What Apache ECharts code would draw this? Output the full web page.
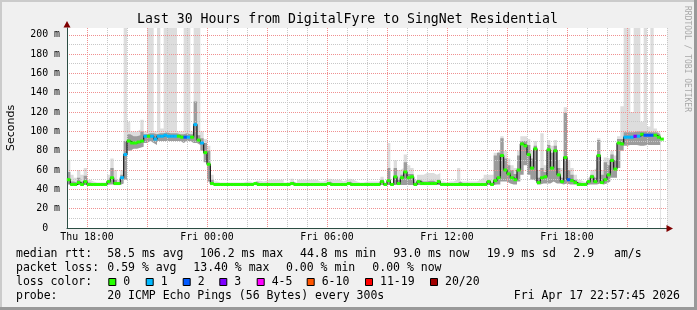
<!DOCTYPE html>
<html><head><meta charset="utf-8">
<script src="https://cdn.jsdelivr.net/npm/echarts@6/dist/echarts.min.js"></script>
<style>html,body{margin:0;padding:0;background:#f0f0f0}#c{width:697px;height:310px}</style>
</head><body><div id="c"></div>
<script>
// time base: hours counted from Thu 00:00, one sample every 10 minutes
const START_HOUR = 17;
const STEP_MIN = 10;

const median = [
 50,45,45,47,45,48,45,45,45,45,
 45,45,48,52,46,46,52,76,90,88,
 88,89,90,95,95,95,92,95,95,96,
 95,95,95,95,94,94,94,94,107,91,
 88,78,66,46,45,45,45,45,45,45,
 45,45,45,45,45,45,46,45,45,45,
 45,45,45,45,45,45,45,46,45,45,
 45,45,45,45,45,45,45,45,46,45,
 45,45,45,45,46,45,45,45,45,45,
 45,45,45,45,48,45,49,45,53,46,
 52,58,52,53,45,48,46,46,46,46,
 46,48,45,45,45,45,45,45,45,45,
 45,45,45,45,45,45,48,45,49,52,
 75,60,56,52,50,60,87,85,76,62,
 82,47,52,53,81,62,80,55,48,73,
 50,49,47,45,45,45,48,53,48,75,
 47,50,55,70,61,88,87,94,94,94,
 95,95,97,96,96,96,96,94,92
];
// loss colour class per sample (index into lossLabels)
const loss = [
 0,0,0,0,0,0,0,0,0,0,
 0,0,0,0,0,0,1,1,0,0,
 0,0,0,1,0,1,1,1,1,1,
 1,1,1,0,0,2,1,0,1,0,
 1,0,0,0,0,0,0,0,0,0,
 0,0,0,0,0,0,0,0,0,0,
 0,0,0,0,0,0,0,0,0,0,
 0,0,0,0,0,0,0,0,0,0,
 0,0,0,0,0,0,0,0,0,0,
 0,0,0,0,0,0,0,0,0,0,
 0,0,0,0,0,0,0,0,0,0,
 0,0,0,0,0,0,0,0,0,0,
 0,0,0,0,0,0,0,0,0,0,
 0,0,0,0,0,0,0,0,0,0,
 0,0,0,0,0,0,0,0,0,0,
 2,0,0,0,0,0,0,0,0,0,
 0,0,0,0,0,0,0,1,1,1,
 3,1,0,2,2,2,0,0,0
];
const smokeHigh = [
 70,55,52,60,55,62,50,48,47,47,
 47,47,55,72,60,50,60,207,110,100,
 100,102,112,100,207,207,100,207,103,207,
 207,207,207,100,100,207,207,100,207,207,
 100,92,85,55,48,47,47,47,47,47,
 47,47,47,48,48,47,49,49,48,49,
 50,50,50,50,50,47,48,51,47,50,
 50,50,50,50,50,48,48,50,51,50,
 50,50,48,50,51,50,48,47,47,48,
 48,48,48,48,53,47,88,47,70,60,
 62,76,65,62,50,55,55,57,57,57,
 55,57,48,47,48,48,50,62,48,48,
 48,48,48,50,52,55,55,55,78,80,
 95,80,72,65,62,80,95,95,92,80,
 90,60,98,65,91,85,91,70,62,125,
 70,62,55,50,48,47,52,60,62,93,
 60,73,72,80,75,95,126,207,207,120,
 207,207,110,207,105,207,103,100,97
];
const smokeMid = [
 58,48,47,52,48,54,47,46,46,46,
 46,46,50,62,50,47,55,90,97,95,
 95,96,100,97,98,98,97,98,98,99,
 98,98,98,97,97,98,97,97,131,96,
 93,88,80,50,46,46,46,46,46,46,
 46,46,46,46,46,46,48,46,46,46,
 46,46,46,46,46,46,46,48,46,46,
 46,46,46,46,46,46,46,46,48,46,
 46,46,46,46,48,46,46,46,46,46,
 46,46,46,46,50,46,62,46,62,50,
 55,68,56,56,47,50,48,48,49,49,
 47,50,46,46,46,46,46,48,46,46,
 46,46,46,46,46,47,50,47,75,78,
 93,72,65,60,56,75,90,90,86,72,
 85,52,62,58,86,78,85,62,52,119,
 60,55,50,47,46,46,50,55,52,91,
 55,68,65,76,70,92,92,99,99,99,
 100,100,100,100,99,99,99,97,95
];
const smokeLow = [
 45,44.5,44.5,44.5,44.5,44.5,44.5,44.5,44.5,44.5,
 44.5,44.5,45,45,45,44.5,46,50,80,82,
 82,83,84,88,90,88,86,90,90,90,
 90,90,90,90,88,90,90,88,88,86,
 80,68,48,44.5,44.5,44.5,44.5,44.5,44.5,44.5,
 44.5,44.5,44.5,44.5,44.5,44.5,44.5,44.5,44.5,44.5,
 44.5,44.5,44.5,44.5,44.5,44.5,44.5,44.5,44.5,44.5,
 44.5,44.5,44.5,44.5,44.5,44.5,44.5,44.5,44.5,44.5,
 44.5,44.5,44.5,44.5,44.5,44.5,44.5,44.5,44.5,44.5,
 44.5,44.5,44.5,44.5,44.5,44.5,44.5,44.5,44.5,44.5,
 44.5,44.5,44.5,44.5,44.5,44.5,44.5,44.5,44.5,44.5,
 44.5,44.5,44.5,44.5,44.5,44.5,44.5,44.5,44.5,44.5,
 44.5,44.5,44.5,44.5,44.5,44.5,44.5,44.5,45,45,
 48,48,46,45,45,48,55,65,55,50,
 48,45,46,46,46,48,46,46,45,46,
 45,45,45,44.5,44.5,44.5,45,45,45,46,
 45,46,48,52,52,62,80,85,86,86,
 86,85,85,86,86,86,86,86,86
];

const xTickHours = [18, 24, 30, 36, 42];
const xTickLabels = ['Thu 18:00', 'Fri 00:00', 'Fri 06:00', 'Fri 12:00', 'Fri 18:00'];
const yLabelStep = 20;
const yLabelMax = 200;

const lossLabels = ['0', '1', '2', '3', '4-5', '6-10', '11-19', '20/20'];
const lossColors = ['#26ff00', '#00b8ff', '#0059ff', '#7e00ff', '#ff00ff', '#ff5500', '#ff0000', '#a10000'];

const titleText = 'Last 30 Hours from DigitalFyre to SingNet Residential';
const statsMedian = ['median rtt:', '58.5 ms avg', '106.2 ms max', '44.8 ms min', '93.0 ms now', '19.9 ms sd', '2.9', 'am/s'];
const statsLoss = ['packet loss:', '0.59 % avg', '13.40 % max', '0.00 % min', '0.00 % now'];
const probeRow = ['probe:', '20 ICMP Echo Pings (56 Bytes) every 300s'];
const stampText = 'Fri Apr 17 22:57:45 2026';

// ---- layout ----
const MONO = '"DejaVu Sans Mono", monospace';
const hourOf = i => START_HOUR + i * STEP_MIN / 60;
const pts = arr => arr.map((v, i) => [hourOf(i), v]);

const gridL = 67, gridT = 28, gridW = 600, gridH = 200;

const graphic = [];
// frame shading
graphic.push({type:'rect', shape:{x:0,y:0,width:697,height:2}, style:{fill:'#cbcbcb'}, silent:true});
graphic.push({type:'rect', shape:{x:0,y:0,width:2,height:310}, style:{fill:'#cbcbcb'}, silent:true});
graphic.push({type:'rect', shape:{x:0,y:307,width:697,height:3}, style:{fill:'#999999'}, silent:true});
graphic.push({type:'rect', shape:{x:694,y:0,width:3,height:310}, style:{fill:'#999999'}, silent:true});
// title
graphic.push({type:'text', x:347.5, y:19.5, silent:true,
  style:{text:titleText, font:'13.2px ' + MONO, fill:'#000', align:'center', verticalAlign:'middle', textAlign:'center', textVerticalAlign:'middle'}});
// y name
graphic.push({type:'text', x:11, y:128, rotation:Math.PI/2, silent:true,
  style:{text:'Seconds', font:'11px "DejaVu Sans", sans-serif', fill:'#000', align:'center', verticalAlign:'middle', textAlign:'center', textVerticalAlign:'middle'}});
// watermark
graphic.push({type:'text', x:687, y:59, rotation:-Math.PI/2, silent:true,
  style:{text:'RRDTOOL / TOBI OETIKER', font:'8px ' + MONO, fill:'#a8a8a8', align:'center', verticalAlign:'middle', textAlign:'center', textVerticalAlign:'middle'}});
// arrows
graphic.push({type:'polygon', shape:{points:[[67,21],[63.5,27.5],[70.5,27.5]]}, style:{fill:'#7f0000'}, z:10, silent:true});
graphic.push({type:'polygon', shape:{points:[[673,228.5],[666.5,225],[666.5,232]]}, style:{fill:'#7f0000'}, z:10, silent:true});

function addText(x, y, t, align) {
  graphic.push({type:'text', x:x, y:y, silent:true,
    style:{text:t, font:'11.5px ' + MONO, fill:'#000', align:align || 'left', verticalAlign:'middle', textAlign:align || 'left', textVerticalAlign:'middle'}});
}
const row1X = [16, 107.3, 200, 300, 393.3, 486.7, 573.3, 614];
statsMedian.forEach((t, k) => addText(row1X[k], 254.5, t));
const row2X = [16, 107.3, 193.3, 286, 372.3];
statsLoss.forEach((t, k) => addText(row2X[k], 268, t));
addText(16, 282, 'loss color:');
const boxX = [108.3, 145.7, 182.7, 219.3, 256.7, 306.7, 365, 430];
lossLabels.forEach((t, k) => {
  graphic.push({type:'rect', shape:{x:boxX[k] + 0.5, y:278.5, width:7, height:7}, style:{fill:lossColors[k], stroke:'#000', lineWidth:1}, silent:true});
  addText(boxX[k] + 15, 282, t);
});
addText(16, 296, probeRow[0]);
addText(107.3, 296, probeRow[1]);
addText(680, 296, stampText, 'right');

const smokeSeries = (arr, color) => ({
  type:'line', data:pts(arr), step:'end', symbol:'none', z:1, silent:true,
  lineStyle:{width:0, opacity:0}, areaStyle:{color:color, opacity:1}
});

const option = {
  animation:false,
  backgroundColor:'#f0f0f0',
  grid:{left:gridL, top:gridT, width:gridW, height:gridH, backgroundColor:'#ffffff', show:true, borderWidth:0},
  xAxis:{
    type:'value', min:17, max:47, interval:1, z:2,
    axisLine:{show:true, onZero:false, lineStyle:{color:'#2c4d43', width:1}},
    axisTick:{show:false},
    splitLine:{show:true, lineStyle:{color:['#c8c8c8', '#f09090', '#c8c8c8'], type:[1,1], width:1}},
    axisLabel:{margin:4, fontFamily:MONO, fontSize:9.9, color:'#000',
      formatter:v => { const k = xTickHours.indexOf(Math.round(v)); return k >= 0 ? xTickLabels[k] : ''; }}
  },
  yAxis:{
    type:'value', min:0, max:207, interval:10, z:2,
    axisLine:{show:true, onZero:false, lineStyle:{color:'#2c4d43', width:1}},
    axisTick:{show:false},
    splitLine:{show:true, showMaxLine:false, lineStyle:{color:['#f09090', '#c8c8c8'], type:[1,1], width:1}},
    axisLabel:{margin:7, fontFamily:MONO, fontSize:9.9, color:'#000',
      formatter:v => (v % yLabelStep === 0 && v <= yLabelMax) ? (v === 0 ? '0  ' : v + ' m') : ''}
  },
  graphic:graphic,
  series:[
    smokeSeries(smokeHigh, '#dddddd'),
    smokeSeries(smokeMid, '#9c9c9c'),
    smokeSeries(smokeLow, '#ffffff'),
    {type:'line', data:pts(median), step:'end', symbol:'none', z:3, silent:true,
      lineStyle:{color:'#1a1a1a', width:1.2}},
    {type:'scatter', z:4, silent:true, symbol:'rect', symbolSize:[3.7, 3],
      data:median.map((v, i) => [hourOf(i) + STEP_MIN / 120, v, loss[i]]),
      itemStyle:{color:p => lossColors[p.data[2]], opacity:1}}
  ]
};
const chart = echarts.init(document.getElementById('c'), null, {renderer:'canvas'});
chart.setOption(option);
</script></body></html>
